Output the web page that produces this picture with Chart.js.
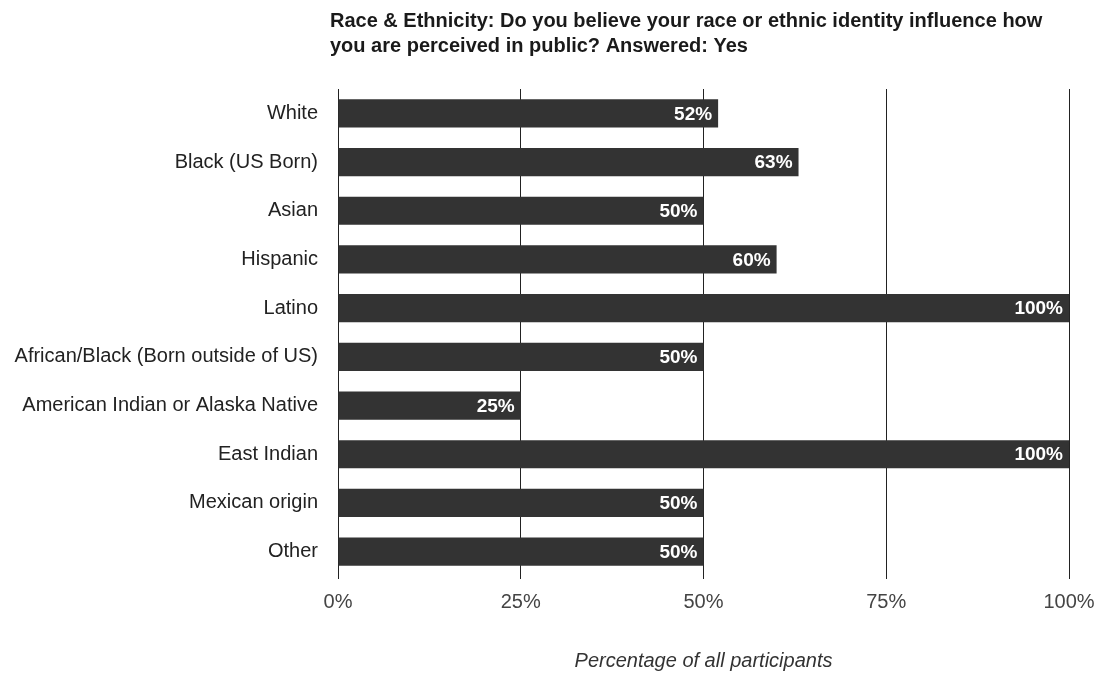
<!DOCTYPE html>
<html>
<head>
<meta charset="utf-8">
<script src="https://cdn.jsdelivr.net/npm/chart.js@4"></script>
<style>
  html, body { margin: 0; padding: 0; background: #fff; }
  #wrap { width: 1097px; height: 673px; }
</style>
</head>
<body>
<div id="wrap"><canvas id="chart" width="1097" height="673"></canvas></div>
<script>
// data
const groups = ["White", "Black (US Born)", "Asian", "Hispanic", "Latino",
  "African/Black (Born outside of US)", "American Indian or Alaska Native",
  "East Indian", "Mexican origin", "Other"];
const yesShare = [52, 63, 50, 60, 100, 50, 25, 100, 50, 50]; // prosent
const xTicks = [0, 25, 50, 75, 100];
const titleLines = ["Race & Ethnicity: Do you believe your race or ethnic identity influence how",
  "you are perceived in public? Answered: Yes"];
const xTitle = "Percentage of all participants";

const font = "'Liberation Sans', Arial, Helvetica, sans-serif";

// tittel tegnes fritt oppe til venstre
const titlePlugin = {
  id: "topTitle",
  afterDraw(chart){
    const ctx = chart.ctx;
    ctx.save();
    ctx.fillStyle = "#1a1a1a";
    ctx.font = "bold 20px " + font;
    ctx.textAlign = "left";
    ctx.textBaseline = "middle";
    titleLines.forEach((l, i) => ctx.fillText(l, 330, 21 + i * 25));
    ctx.restore();
  }
};

// verdier inne i enden av stolpen
const valuePlugin = {
  id: "barValues",
  afterDatasetsDraw(chart){
    const ctx = chart.ctx;
    const meta = chart.getDatasetMeta(0);
    ctx.save();
    ctx.fillStyle = "#ffffff";
    ctx.font = "bold 19px " + font;
    ctx.textAlign = "right";
    ctx.textBaseline = "middle";
    meta.data.forEach((bar, i) => {
      ctx.fillText(yesShare[i] + "%", bar.x - 6, bar.y + 1);
    });
    ctx.restore();
  }
};

new Chart(document.getElementById("chart"), {
  type: "bar",
  data: {
    labels: groups,
    datasets: [{
      data: yesShare,
      backgroundColor: "#333333",
      borderWidth: 0,
      categoryPercentage: 1,
      barPercentage: 0.58
    }]
  },
  plugins: [titlePlugin, valuePlugin],
  options: {
    indexAxis: "y",
    responsive: false,
    animation: false,
    layout: { padding: { top: 89, right: 28, left: 0, bottom: 0 } },
    plugins: { legend: { display: false }, tooltip: { enabled: false } },
    scales: {
      x: {
        min: 0, max: 100,
        afterBuildTicks(scale){ scale.ticks = xTicks.map(v => ({ value: v })); },
        afterFit(scale){
          scale.height = 97;
          scale.paddingLeft = 0; scale.paddingRight = 0; // la siste etikett henge utenfor
        },
        grid: { color: "#222222", lineWidth: 1, drawTicks: true, tickLength: 3 },
        border: { display: false },
        ticks: {
          color: "#444444", font: { family: font, size: 20 }, padding: 11,
          callback: v => v + "%"
        },
        title: {
          display: true, text: xTitle, color: "#333333",
          font: { family: font, size: 20, style: "italic" },
          padding: { top: 0, bottom: 0 }
        }
      },
      y: {
        afterFit(scale){ scale.width = 338; },
        grid: { display: false, drawTicks: false },
        border: { display: false },
        ticks: { color: "#222222", font: { family: font, size: 20 }, padding: 20 }
      }
    }
  }
});
</script>
</body>
</html>
